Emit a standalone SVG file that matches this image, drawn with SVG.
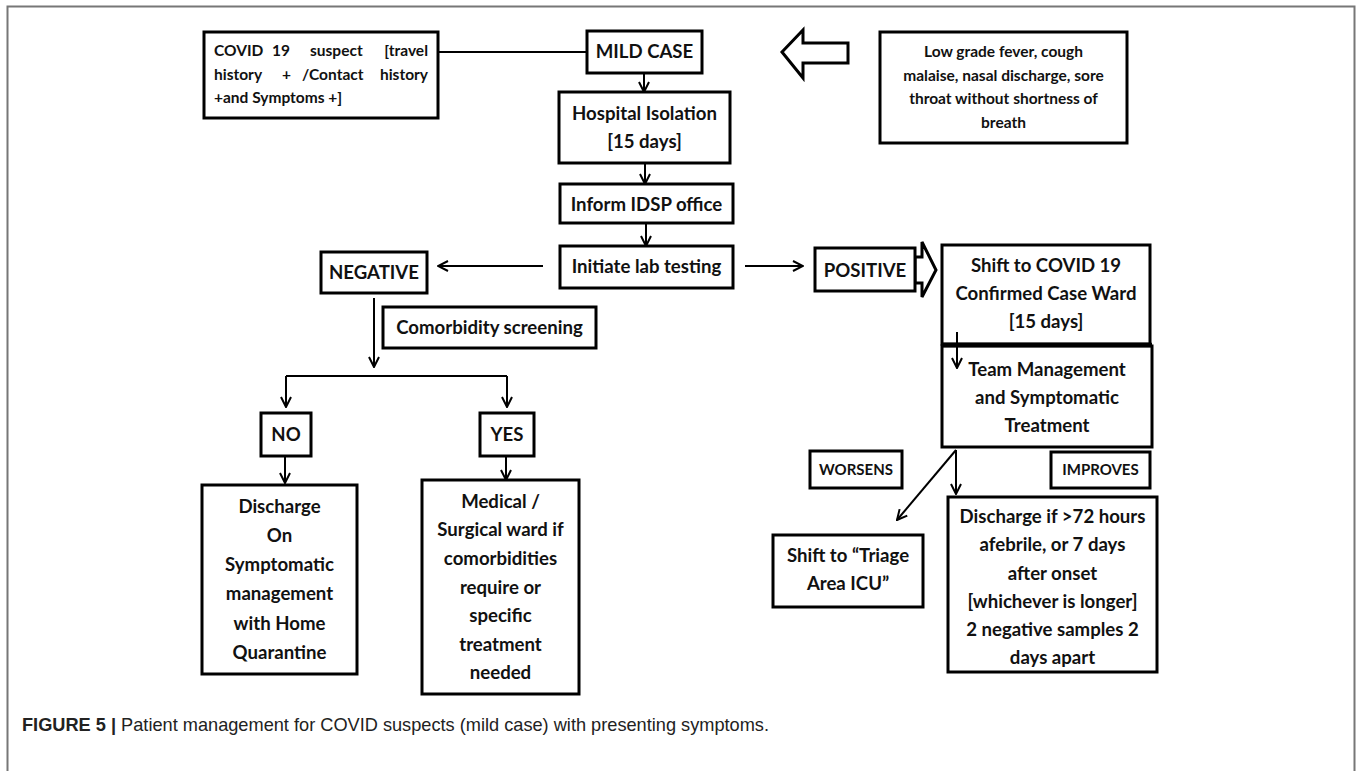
<svg xmlns="http://www.w3.org/2000/svg" width="1357" height="771" viewBox="0 0 1357 771">
  <style>
    .box { fill: #fff; stroke: #000; stroke-width: 3; }
    .t { font-family: Lato, "Liberation Sans", sans-serif; font-weight: bold; font-size: 18.6px; fill: #111; text-anchor: middle; }
    .ts { font-family: Lato, "Liberation Sans", sans-serif; font-weight: bold; font-size: 15.5px; fill: #111; }
    .tm { font-family: Lato, "Liberation Sans", sans-serif; font-weight: bold; font-size: 15px; fill: #111; text-anchor: middle; }
    .ln { fill: none; stroke: #000; stroke-width: 2; }
    .arr { fill: none; stroke: #000; stroke-width: 2; marker-end: url(#vhead); }
    .blk { fill: #fff; stroke: #000; stroke-width: 3; stroke-linejoin: miter; }
    .cap { font-family: "Liberation Sans", Arial, sans-serif; font-size: 18.2px; fill: #222; }
  </style>
  <defs>
    <marker id="vhead" viewBox="0 0 12 12" refX="11" refY="6" markerWidth="12" markerHeight="12" markerUnits="userSpaceOnUse" orient="auto">
      <path d="M1,1 L11,6 L1,11" fill="none" stroke="#000" stroke-width="2"/>
    </marker>
  </defs>

  <rect width="1357" height="771" fill="#fff"/>
  <!-- figure frame -->
  <path d="M7.5,790 L7.5,6.5 L1354.5,6.5 L1354.5,790" fill="none" stroke="#777" stroke-width="2"/>

  <!-- connectors -->
  <g id="connectors">
    <path class="ln" d="M438,52 L587,52"/>
    <path class="arr" d="M644,73 L644,92"/>
    <path class="arr" d="M645,163 L645,184"/>
    <path class="arr" d="M646,223 L646,246"/>
    <path class="arr" d="M543,266 L438,266"/>
    <path class="arr" d="M745,266 L803,266"/>
    <path class="arr" d="M374,298 L374,367"/>
    <path class="ln" d="M286,376 L507,376"/>
    <path class="arr" d="M286,376 L286,407"/>
    <path class="arr" d="M507,376 L507,407"/>
    <path class="arr" d="M285,456 L285,483"/>
    <path class="arr" d="M506,456 L506,480"/>
    <path class="arr" d="M956,450 L897,520"/>
    <path class="arr" d="M956,450 L956,494"/>
    <!-- hollow block arrows -->
    <polygon class="blk" points="782,52 803,30 803,43 848,43 848,63 803,63 803,78"/>
    <polygon class="blk" points="915,257 922,257 922,242 936,270 922,297 922,283 915,283"/>
  </g>

  <g id="suspect">
    <rect class="box" x="204" y="32" width="234" height="86"/>
    <text class="ts" font-size="15" y="56"><tspan x="214">COVID</tspan><tspan x="272">19</tspan><tspan x="310">suspect</tspan><tspan x="428" text-anchor="end">[travel</tspan></text>
    <text class="ts" font-size="15" y="80"><tspan x="214">history</tspan><tspan x="282">+</tspan><tspan x="302">/Contact</tspan><tspan x="428" text-anchor="end">history</tspan></text>
    <text class="ts" font-size="15" x="214" y="103">+and Symptoms +]</text>
  </g>

  <g id="mild-case">
    <rect class="box" x="587" y="31" width="115" height="42"/>
    <text class="t" x="644.5" y="58">MILD CASE</text>
  </g>

  <g id="symptoms">
    <rect class="box" x="880" y="32" width="247" height="111"/>
    <text class="ts" text-anchor="middle" x="1003.5" y="57">Low grade fever, cough</text>
    <text class="ts" text-anchor="middle" x="1003.5" y="81">malaise, nasal discharge, sore</text>
    <text class="ts" text-anchor="middle" x="1003.5" y="104">throat without shortness of</text>
    <text class="ts" text-anchor="middle" x="1003.5" y="128">breath</text>
  </g>

  <g id="isolation">
    <rect class="box" x="559" y="92" width="171" height="71"/>
    <text class="t" x="644.5" y="120">Hospital Isolation</text>
    <text class="t" x="644.5" y="148">[15 days]</text>
  </g>

  <g id="idsp">
    <rect class="box" x="560" y="184" width="173" height="39"/>
    <text class="t" x="646.5" y="211">Inform IDSP office</text>
  </g>

  <g id="lab-testing">
    <rect class="box" x="560" y="246" width="173" height="42"/>
    <text class="t" x="646.5" y="273">Initiate lab testing</text>
  </g>

  <g id="negative">
    <rect class="box" x="321" y="252" width="106" height="41"/>
    <text class="t" x="374" y="279">NEGATIVE</text>
  </g>

  <g id="comorbidity">
    <rect class="box" x="383" y="307" width="213" height="41"/>
    <text class="t" x="489.5" y="334">Comorbidity screening</text>
  </g>

  <g id="no">
    <rect class="box" x="261" y="413" width="50" height="43"/>
    <text class="t" x="286" y="441">NO</text>
  </g>

  <g id="yes">
    <rect class="box" x="480" y="413" width="54" height="43"/>
    <text class="t" x="507" y="441">YES</text>
  </g>

  <g id="discharge-home">
    <rect class="box" x="202" y="485" width="155" height="189"/>
    <text class="t" x="279.5" y="513">Discharge</text>
    <text class="t" x="279.5" y="542">On</text>
    <text class="t" x="279.5" y="571">Symptomatic</text>
    <text class="t" x="279.5" y="600">management</text>
    <text class="t" x="279.5" y="630">with Home</text>
    <text class="t" x="279.5" y="659">Quarantine</text>
  </g>

  <g id="ward">
    <rect class="box" x="422" y="480" width="157" height="214"/>
    <text class="t" x="500.5" y="508">Medical /</text>
    <text class="t" x="500.5" y="536">Surgical ward if</text>
    <text class="t" x="500.5" y="565">comorbidities</text>
    <text class="t" x="500.5" y="594">require or</text>
    <text class="t" x="500.5" y="622">specific</text>
    <text class="t" x="500.5" y="651">treatment</text>
    <text class="t" x="500.5" y="679">needed</text>
  </g>

  <g id="positive">
    <rect class="box" x="815" y="248" width="100" height="43"/>
    <text class="t" x="865" y="277">POSITIVE</text>
  </g>

  <g id="confirmed-ward">
    <rect class="box" x="942" y="245" width="208" height="99"/>
    <text class="t" x="1046" y="272">Shift to COVID 19</text>
    <text class="t" x="1046" y="300">Confirmed Case Ward</text>
    <text class="t" x="1046" y="328">[15 days]</text>
  </g>

  <g id="team-management">
    <rect class="box" x="942" y="346" width="210" height="101"/>
    <text class="t" x="1047" y="376">Team Management</text>
    <text class="t" x="1047" y="404">and Symptomatic</text>
    <text class="t" x="1047" y="432">Treatment</text>
  </g>
  <!-- heavy rule where the two ward boxes meet, with the short down-arrow over it -->
  <path d="M942,345 L1152,345" stroke="#000" stroke-width="4.5"/>
  <path class="arr" d="M957,332 L957,368"/>

  <g id="worsens">
    <rect class="box" x="810" y="451" width="92" height="37"/>
    <text class="tm" x="856" y="475">WORSENS</text>
  </g>

  <g id="improves">
    <rect class="box" x="1051" y="452" width="99" height="36"/>
    <text class="tm" x="1100.5" y="475">IMPROVES</text>
  </g>

  <g id="triage">
    <rect class="box" x="773" y="535" width="150" height="72"/>
    <text class="t" x="848" y="562">Shift to “Triage</text>
    <text class="t" x="848" y="590">Area ICU”</text>
  </g>

  <g id="discharge-recovered">
    <rect class="box" x="948" y="497" width="209" height="175"/>
    <text class="t" x="1052.5" y="523">Discharge if &gt;72 hours</text>
    <text class="t" x="1052.5" y="551">afebrile, or 7 days</text>
    <text class="t" x="1052.5" y="580">after onset</text>
    <text class="t" x="1052.5" y="608">[whichever is longer]</text>
    <text class="t" x="1052.5" y="636">2 negative samples 2</text>
    <text class="t" x="1052.5" y="664">days apart</text>
  </g>

  <text class="cap" x="22" y="731"><tspan font-weight="bold">FIGURE 5 |</tspan> Patient management for COVID suspects (mild case) with presenting symptoms.</text>
</svg>
